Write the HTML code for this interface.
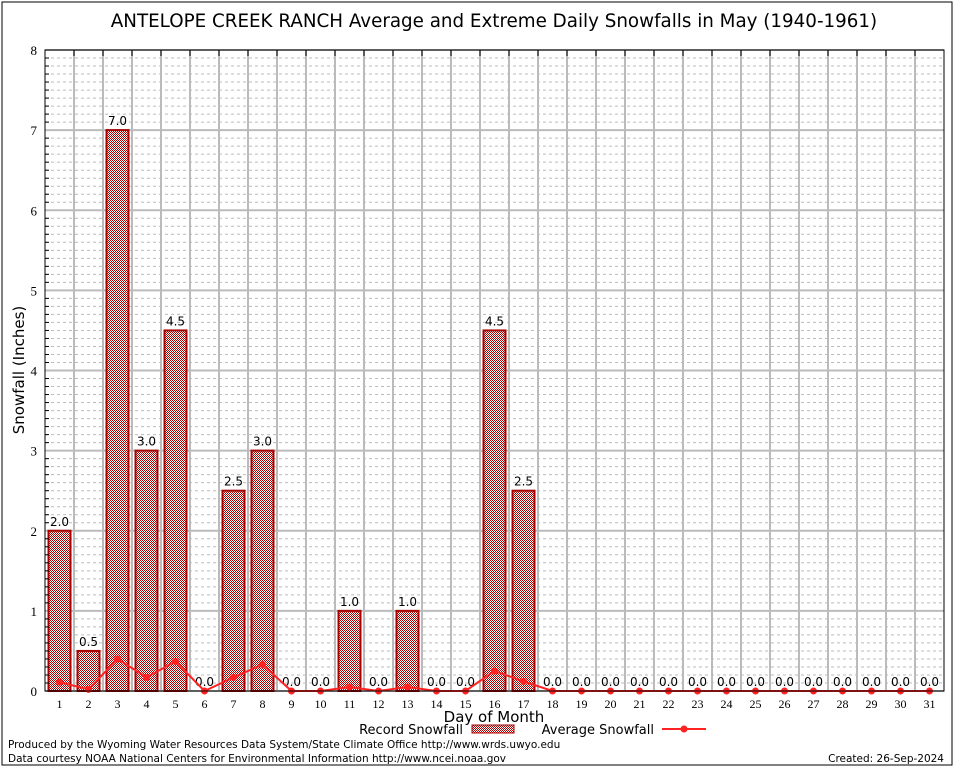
<!DOCTYPE html>
<html><head><meta charset="utf-8"><style>
body{margin:0;background:#fff;}
svg{display:block;font-family:"DejaVu Sans","Liberation Sans",sans-serif;}
</style></head><body>
<svg id="c" width="954" height="768">
<defs><pattern id="hatch" width="2" height="2" patternUnits="userSpaceOnUse"><rect width="2" height="2" fill="#fff"/><rect width="1" height="1" fill="#a00"/><rect x="1" y="1" width="1" height="1" fill="#a00"/></pattern></defs>
<rect x="2" y="2" width="950" height="763" fill="none" stroke="#000"/>
<text x="494" y="27" font-size="18.3" text-anchor="middle">ANTELOPE CREEK RANCH Average and Extreme Daily Snowfalls in May (1940-1961)</text>
<g id="grid"></g><g id="bars"></g><g id="line"></g><g id="axes"></g>
<text x="24" y="370" font-size="15" text-anchor="middle" transform="rotate(-90 24 370)">Snowfall (Inches)</text>
<text x="494" y="722" font-size="15" text-anchor="middle">Day of Month</text>
<g><text x="463" y="734" font-size="13" text-anchor="end">Record Snowfall</text><rect x="472" y="725" width="42" height="8" fill="url(#hatch)" stroke="#a00"/></g>
<g><text x="654" y="734" font-size="13" text-anchor="end">Average Snowfall</text><line x1="662" y1="729" x2="706" y2="729" stroke="#f22" stroke-width="2"/><circle cx="684" cy="729" r="3.5" fill="#f22"/></g>
<text x="8" y="748" font-size="10.5">Produced by the Wyoming Water Resources Data System/State Climate Office http://www.wrds.uwyo.edu</text>
<text x="8" y="762" font-size="10.5">Data courtesy NOAA National Centers for Environmental Information http://www.ncei.noaa.gov</text>
<text x="944" y="762" font-size="10.5" text-anchor="end">Created:  26-Sep-2024</text>
</svg>
<script>
const days=[1,2,3,4,5,6,7,8,9,10,11,12,13,14,15,16,17,18,19,20,21,22,23,24,25,26,27,28,29,30,31];
const recordVals=[2.0,0.5,7.0,3.0,4.5,0,2.5,3.0,0,0,1.0,0,1.0,0,0,4.5,2.5,0,0,0,0,0,0,0,0,0,0,0,0,0,0];
const avgVals=[0.11,0.02,0.4,0.17,0.37,0,0.17,0.33,0,0,0.05,0,0.05,0,0,0.25,0.12,0,0,0,0,0,0,0,0,0,0,0,0,0,0];
const yTicks=[0,1,2,3,4,5,6,7,8];
const L=45,R=944,T=50,B=691,yMax=8;
const step=(R-L)/days.length;
const X=d=>L+step*(d-0.5);
const Y=v=>B-(B-T)*v/yMax;
const NS="http://www.w3.org/2000/svg";
function mk(tag,attrs,parent){const e=document.createElementNS(NS,tag);for(const k in attrs)e.setAttribute(k,attrs[k]);parent.appendChild(e);return e;}
const grid=document.getElementById('grid'),bars=document.getElementById('bars'),line=document.getElementById('line'),axes=document.getElementById('axes');
for(let i=0;i<yMax*10;i++){const v=i/10;if(i%10===0)continue;const g=mk('line',{x1:L,x2:R,y1:Y(v),y2:Y(v),stroke:'#bbb','stroke-dasharray':'3,3'},grid);
const t=mk('line',{x1:L,x2:L+4,y1:Y(v),y2:Y(v),stroke:'#000'},axes);}
yTicks.forEach(v=>{const g=mk('line',{x1:L,x2:R,y1:Y(v),y2:Y(v),stroke:'#bbb','stroke-width':2},grid);
const t=mk('text',{x:L-8,y:Y(v)+5,'font-size':13,'text-anchor':'end','font-family':'Liberation Serif,serif'},axes);t.textContent=v;});
for(let i=1;i<days.length;i++){const g=mk('line',{x1:L+step*i,x2:L+step*i,y1:T,y2:B,stroke:'#bbb','stroke-width':2},grid);
const t=mk('line',{x1:L+step*i,x2:L+step*i,y1:T,y2:T+6,stroke:'#000'},axes);}
days.forEach((d,i)=>{const v=recordVals[i];
if(v>0){const b=mk('rect',{x:X(d)-11,y:Y(v),width:22,height:B-Y(v),fill:'url(#hatch)',stroke:'#a00','stroke-width':2},bars);}
const lb=mk('text',{x:X(d),y:Y(v)-5,'font-size':12,'text-anchor':'middle'},bars);lb.textContent=v.toFixed(1);
const xl=mk('text',{x:X(d),y:B+17,'font-size':12,'text-anchor':'middle','font-family':'Liberation Serif,serif'},axes);xl.textContent=d;});
const pl=mk('polyline',{points:days.map((d,i)=>X(d)+','+Y(avgVals[i])).join(' '),fill:'none',stroke:'#f22','stroke-width':2},line);

days.forEach((d,i)=>{const c=mk('circle',{cx:X(d),cy:Y(avgVals[i]),r:3.5,fill:'#f22'},line);});
const fr=mk('rect',{x:L,y:T,width:R-L,height:B-T,fill:'none',stroke:'#000'},axes);
</script>
</body></html>
